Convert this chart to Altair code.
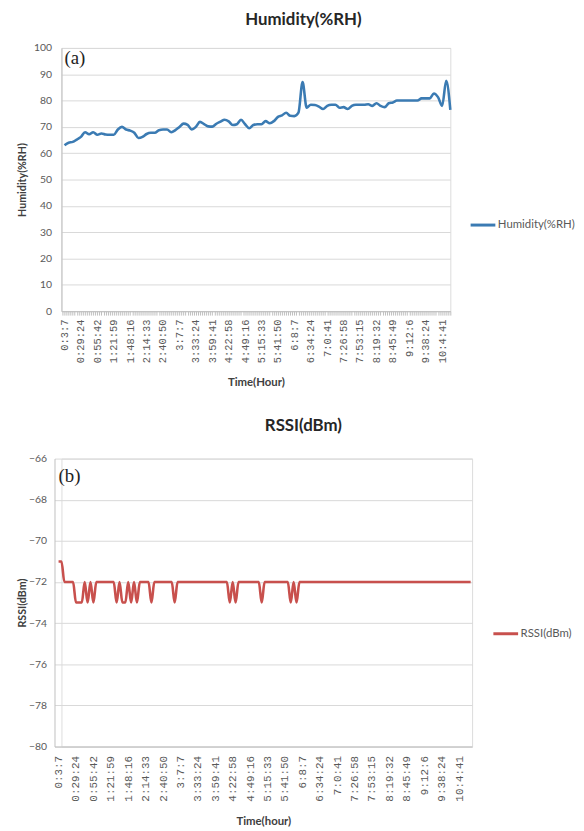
import altair as alt
import pandas as pd
import numpy as np

TIME_LABELS = ["0:3:7", "0:29:24", "0:55:42", "1:21:59", "1:48:16", "2:14:33",
               "2:40:50", "3:7:7", "3:33:24", "3:59:41", "4:22:58", "4:49:16",
               "5:15:33", "5:41:50", "6:8:7", "6:34:24", "7:0:41", "7:26:58",
               "7:53:15", "8:19:32", "8:45:49", "9:12:6", "9:38:24", "10:4:41"]

# humidity samples: 4 samples per labelled time step
HUM_PER_LABEL = 4
HUMIDITY = [63, 64, 64.3, 65.2, 66.2, 68, 67.2, 68, 67, 67.5,
            67.1, 67, 67, 69, 70, 69, 68.6, 67.8, 65.8, 66.2,
            67.3, 67.75, 67.75, 68.75, 69, 69, 68, 68.75, 70, 71.25,
            70.8, 69, 70, 71.9, 71.1, 70.2, 70.1, 71.2, 72, 72.75,
            72.1, 70.7, 71, 72.7, 71, 69.5, 70.7, 71, 71, 72.2,
            71.4, 72.2, 73.8, 74.4, 75.4, 74.2, 74.1, 75.4, 87, 77.3,
            78.4, 78.3, 77.7, 76.8, 78, 78.4, 78.4, 77.3, 77.5, 76.8,
            78, 78.4, 78.4, 78.4, 78.6, 78, 79, 78, 77.5, 79,
            79.3, 80, 80, 80, 80, 80, 80, 80.85, 80.85, 80.85,
            82.7, 81.3, 78, 87.5, 76.5]

# RSSI samples: 6 samples per labelled time step
RSSI_PER_LABEL = 6
RSSI = [-71, -71, -72, -72, -72, -72, -73, -73, -73, -72,
        -73, -72, -73, -72, -72, -72, -72, -72, -72, -72,
        -73, -72, -73, -73, -72, -73, -72, -73, -72, -72,
        -72, -72, -73, -72, -72, -72, -72, -72, -72, -72,
        -73, -72, -72, -72, -72, -72, -72, -72, -72, -72,
        -72, -72, -72, -72, -72, -72, -72, -72, -72, -73,
        -72, -73, -72, -72, -72, -72, -72, -72, -72, -72,
        -73, -72, -72, -72, -72, -72, -72, -72, -72, -72,
        -73, -72, -73, -72, -72, -72, -72, -72, -72, -72,
        -72, -72, -72, -72, -72, -72, -72, -72, -72, -72,
        -72, -72, -72, -72, -72, -72, -72, -72, -72, -72,
        -72, -72, -72, -72, -72, -72, -72, -72, -72, -72,
        -72, -72, -72, -72, -72, -72, -72, -72, -72, -72,
        -72, -72, -72, -72, -72, -72, -72, -72, -72, -72,
        -72, -72, -72]

# panel tags and where they sit (data units)
NOTES_TOP = {"idx": [0], "value": [93.8], "t": ["(a)"]}
NOTES_BOT = {"idx": [0], "value": [-67.15], "t": ["(b)"]}

HUM_NAME = "Humidity(%RH)"
RSSI_NAME = "RSSI(dBm)"
HUM_COLOR = "#3b7bb3"
RSSI_COLOR = "#c8504d"

GRID = "#d9d9d9"
AXIS = "#bfbfbf"
LABEL = "#595959"
TITLE = "#404040"
SANS = "Lato"


def label_expr(k):
    arr = "[" + ",".join("'%s'" % t for t in TIME_LABELS) + "]"
    n = len(TIME_LABELS)
    return ("(datum.value %% %d == 0 && datum.value >= 0 && datum.value / %d < %d) ? %s[datum.value / %d] : ''"
            % (k, k, n, arr, k))


hum_df = pd.DataFrame({"idx": list(range(len(HUMIDITY))), "value": HUMIDITY, "series": HUM_NAME})
rssi_df = pd.DataFrame({"idx": list(range(len(RSSI))), "value": RSSI, "series": RSSI_NAME})

# ---------------- top chart ----------------
top_x_dom = [-0.75, len(HUMIDITY) - 1]
top_ticks = [float(v) for v in np.arange(-0.5, len(HUMIDITY) - 1 + 0.01, 0.5)]

top_x = alt.X("idx:Q",
              scale=alt.Scale(domain=top_x_dom, nice=False, zero=False),
              axis=alt.Axis(values=top_ticks, labelExpr=label_expr(HUM_PER_LABEL),
                            labelAngle=-90, labelFont="Liberation Mono", labelFontSize=10.5,
                            labelColor=LABEL, labelOverlap=False, labelFlush=False,
                            tickSize=4, tickColor=AXIS, domainColor=AXIS, grid=False,
                            labelPadding=4, title="Time(Hour)", titleFont=SANS,
                            titleFontSize=11.5, titleFontWeight="bold", titleColor=TITLE,
                            titlePadding=14))
top_y = alt.Y("value:Q",
              scale=alt.Scale(domain=[0, 100], nice=False),
              axis=alt.Axis(values=list(range(0, 101, 10)), grid=True, gridColor=GRID,
                            ticks=False, domainColor=AXIS, labelPadding=10,
                            labelFont=SANS, labelFontSize=10.5, labelColor=LABEL,
                            labelOverlap=False,
                            title=HUM_NAME, titleFont=SANS, titleFontSize=10.8,
                            titleFontWeight="bold", titleColor=TITLE, titlePadding=6))

top_line = alt.Chart(hum_df).mark_line(strokeWidth=2.6, interpolate="monotone").encode(
    x=top_x, y=top_y,
    color=alt.Color("series:N", scale=alt.Scale(domain=[HUM_NAME], range=[HUM_COLOR]),
                    legend=alt.Legend(title=None, orient="none", legendX=412, legendY=165,
                                      symbolType="stroke", symbolSize=625, symbolStrokeWidth=3,
                                      labelFont=SANS, labelFontSize=11.5, labelColor=LABEL,
                                      labelOffset=1)))
top_note = alt.Chart(pd.DataFrame(NOTES_TOP)).mark_text(
    font="Liberation Serif", fontSize=19, align="left", baseline="alphabetic", color="#222222"
).encode(x=top_x, y=top_y, text="t:N")

top = alt.layer(top_line, top_note).properties(
    width=393, height=266,
    title=alt.TitleParams(HUM_NAME, font=SANS, fontSize=17, fontWeight="bold", color="#262626",
                          anchor="middle", frame="group", dx=48, offset=14))

# ---------------- bottom chart ----------------
# plot group starts at the same x as the top one; the scale range reaches 7px further left
BOT_W = 415
BOT_LEFT = 7
bot_x_dom = [-1.4, len(RSSI) - 0.5]
bot_ticks = [i * RSSI_PER_LABEL for i in range(len(TIME_LABELS))]

bot_x = alt.X("idx:Q",
              scale=alt.Scale(domain=bot_x_dom, nice=False, zero=False, range=[-BOT_LEFT, BOT_W]),
              axis=alt.Axis(values=bot_ticks, labelExpr=label_expr(RSSI_PER_LABEL),
                            labelAngle=-90, labelFont="Liberation Mono", labelFontSize=11,
                            labelColor=LABEL, labelOverlap=False, labelFlush=False,
                            ticks=False, domainColor=AXIS, grid=False, labelPadding=9,
                            title="Time(hour)", titleFont=SANS, titleFontSize=11.5,
                            titleFontWeight="bold", titleColor=TITLE, titlePadding=15))
bot_y = alt.Y("value:Q",
              scale=alt.Scale(domain=[-80, -66], nice=False, zero=False),
              axis=alt.Axis(values=list(range(-80, -65, 2)), grid=True, gridColor=GRID,
                            ticks=False, domainColor=AXIS, labelPadding=8, offset=BOT_LEFT,
                            labelFont=SANS, labelFontSize=10.5, labelColor=LABEL,
                            labelOverlap=False,
                            title=RSSI_NAME, titleFont=SANS, titleFontSize=10.8,
                            titleFontWeight="bold", titleColor=TITLE, titlePadding=1))

bot_line = alt.Chart(rssi_df).mark_line(strokeWidth=2.6, interpolate="monotone").encode(
    x=bot_x, y=bot_y,
    color=alt.Color("series:N", scale=alt.Scale(domain=[RSSI_NAME], range=[RSSI_COLOR]),
                    legend=alt.Legend(title=None, orient="none", legendX=435, legendY=163,
                                      symbolType="stroke", symbolSize=625, symbolStrokeWidth=3,
                                      labelFont=SANS, labelFontSize=11.5, labelColor=LABEL,
                                      labelOffset=1)))
bot_note = alt.Chart(pd.DataFrame(NOTES_BOT)).mark_text(
    font="Liberation Serif", fontSize=19, align="left", baseline="alphabetic", color="#222222"
).encode(x=bot_x, y=bot_y, text="t:N")

bottom = alt.layer(bot_line, bot_note).properties(
    width=BOT_W, height=291,
    title=alt.TitleParams(RSSI_NAME, font=SANS, fontSize=17, fontWeight="bold", color="#262626",
                          anchor="middle", frame="group", dx=37, offset=19))

chart = alt.concat(top, bottom, columns=1, spacing=27).resolve_scale(
    x="independent", y="independent", color="independent"
).properties(
    padding={"left": 8, "top": -2, "right": 0, "bottom": 0}
).configure_view(stroke=None).configure(background="white")

chart.save("out.html", embed_options={"renderer": "svg", "actions": False})
